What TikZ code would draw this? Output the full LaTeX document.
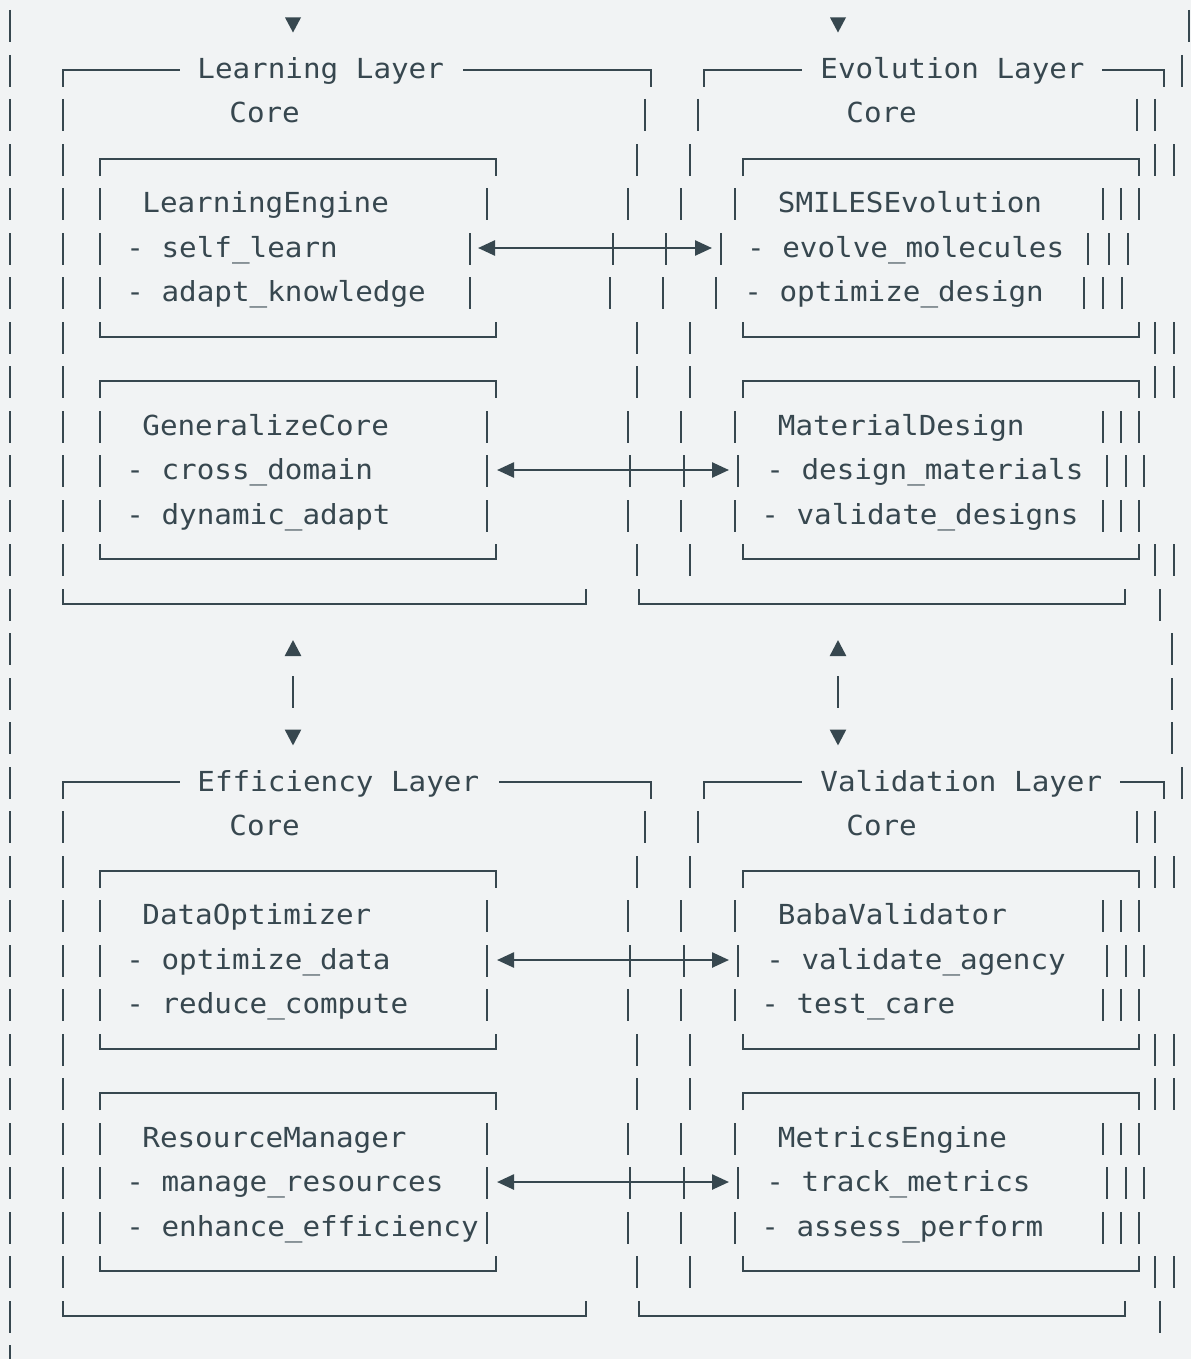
\documentclass[tikz,border=0pt]{standalone}
\usepackage{fontspec}
\newfontfamily\asciifont[FakeStretch=1.06]{DejaVu Sans Mono}
\usetikzlibrary{arrows.meta}
\definecolor{ink}{HTML}{37474F}
\definecolor{paper}{HTML}{F1F3F4}
\tikzset{
  ln/.style={draw=ink, line width=1.25pt},
  lbl/.style={anchor=base west, inner sep=0pt, text=ink, font=\asciifont\fontsize{13.8pt}{16pt}\selectfont},
  hd/.tip={Triangle[length=8.5pt,width=7.5pt]},
  hdv/.tip={Triangle[length=8pt,width=8pt]},
}
% row centre, bars, box edges
\newcommand\ry[1]{round(25+44.5*(#1))}
\newcommand\vb[2]{\foreach \bx in {#2}{\draw[ln] (\bx,{\ry{#1}-15}) -- (\bx,{\ry{#1}+17});}}
\newcommand\topedge[3]{\draw[ln] (#2,{\ry{#1}+17}) |- (#3,{\ry{#1}}) -- (#3,{\ry{#1}+17});}
\newcommand\botedge[3]{\draw[ln] (#2,{\ry{#1}-15}) |- (#3,{\ry{#1}}) -- (#3,{\ry{#1}-15});}
\begin{document}
\begin{tikzpicture}[x=0.5pt,y=-0.5pt]
\fill[paper] (0,0) rectangle (1191,1359);
\useasboundingbox (0,0) rectangle (1191,1359);

\foreach \r in {0,...,30}{\vb{\r}{10}}
\vb{0}{1189} \foreach \r in {14,15,16}{\vb{\r}{1172}}
\foreach \x in {293,838}{\fill[ink] ({\x-8},{\ry{0}-7.5}) -- ({\x+8},{\ry{0}-7.5}) -- (\x,{\ry{0}+7.5}) -- cycle;}

% the two halves
\foreach \o in {0,16}{
  \vb{\o+2}{63,645,698,1137,1155}
  \foreach \r in {3,7,8,12}{\vb{\o+\r}{63,637,690,1155,1174}}
  \foreach \r in {3,8}{\topedge{\o+\r}{100}{496} \topedge{\o+\r}{743}{1139}}
  \foreach \r in {7,12}{\botedge{\o+\r}{100}{496} \botedge{\o+\r}{743}{1139}}
  \foreach \r in {4,9}{\vb{\o+\r}{63,100,487,628,681,735,1103,1121,1139}}
  \botedge{\o+13}{63}{586} \botedge{\o+13}{639}{1125} \vb{\o+13}{1160}
}
\foreach \r in {11,22,27}{\vb{\r}{63,100,487,628,681,735,1103,1121,1139}}
\foreach \r in {10,21,26}{\vb{\r}{63,100,487,630,684,738,1107,1126,1144}}
\vb{5}{63,100,470,613,666,721,1088,1109,1128}
\vb{6}{63,100,470,610,663,716,1084,1103,1122}

\foreach \r/\a/\b in {1/463/1102,17/499/1120}{
  \draw[ln] (63,{\ry{\r}+17}) |- (180,{\ry{\r}}); \draw[ln] (\a,{\ry{\r}}) -| (651,{\ry{\r}+17});
  \draw[ln] (704,{\ry{\r}+17}) |- (802,{\ry{\r}}); \draw[ln] (\b,{\ry{\r}}) -| (1164,{\ry{\r}+17});
  \vb{\r}{1182}
}

\node[lbl] (ll) at (197,{\ry{1}+9}) {Learning Layer};
\node[lbl] (evl) at (820,{\ry{1}+9}) {Evolution Layer};
\node[lbl] (lc) at (229,{\ry{2}+9}) {Core};
\node[lbl] (evc) at (846,{\ry{2}+9}) {Core};
\node[lbl] (le) at (142,{\ry{4}+9}) {LearningEngine};
\node[lbl] (le1) at (126,{\ry{5}+9}) {- self\_learn};
\node[lbl] (le2) at (126,{\ry{6}+9}) {- adapt\_knowledge};
\node[lbl] (se) at (777.5,{\ry{4}+9}) {SMILESEvolution};
\node[lbl] (se1) at (746.7,{\ry{5}+9}) {- evolve\_molecules};
\node[lbl] (se2) at (744,{\ry{6}+9}) {- optimize\_design};
\node[lbl] (gc) at (142,{\ry{9}+9}) {GeneralizeCore};
\node[lbl] (gc1) at (126,{\ry{10}+9}) {- cross\_domain};
\node[lbl] (gc2) at (126,{\ry{11}+9}) {- dynamic\_adapt};
\node[lbl] (md) at (777.5,{\ry{9}+9}) {MaterialDesign};
\node[lbl] (md1) at (766,{\ry{10}+9}) {- design\_materials};
\node[lbl] (md2) at (761,{\ry{11}+9}) {- validate\_designs};

\node[lbl] (efl) at (197,{\ry{17}+9}) {Efficiency Layer};
\node[lbl] (val) at (820,{\ry{17}+9}) {Validation Layer};
\node[lbl] (efc) at (229,{\ry{18}+9}) {Core};
\node[lbl] (vac) at (846,{\ry{18}+9}) {Core};
\node[lbl] (do) at (142,{\ry{20}+9}) {DataOptimizer};
\node[lbl] (do1) at (126,{\ry{21}+9}) {- optimize\_data};
\node[lbl] (do2) at (126,{\ry{22}+9}) {- reduce\_compute};
\node[lbl] (bv) at (777.5,{\ry{20}+9}) {BabaValidator};
\node[lbl] (bv1) at (766,{\ry{21}+9}) {- validate\_agency};
\node[lbl] (bv2) at (761,{\ry{22}+9}) {- test\_care};
\node[lbl] (rm) at (142,{\ry{25}+9}) {ResourceManager};
\node[lbl] (rm1) at (126,{\ry{26}+9}) {- manage\_resources};
\node[lbl] (rm2) at (126,{\ry{27}+9}) {- enhance\_efficiency};
\node[lbl] (me) at (777.5,{\ry{25}+9}) {MetricsEngine};
\node[lbl] (me1) at (766,{\ry{26}+9}) {- track\_metrics};
\node[lbl] (me2) at (761,{\ry{27}+9}) {- assess\_perform};

% links between the layers
\foreach \r/\a/\b in {5/478/712,10/497/729,21/497/729,26/497/729}{
  \coordinate (w\r) at (\a,{\ry{\r}}); \coordinate (e\r) at (\b,{\ry{\r}});
  \draw[ln,hd-hd] (w\r) -- (e\r);
}
\foreach \x in {293,838}{
  \coordinate (n\x) at (\x,{\ry{14}-8}); \coordinate (s\x) at (\x,{\ry{16}+8.5});
  \draw[ln,hdv-hdv,dash pattern=on 0pt off 10.5pt on 16pt off 30pt] (n\x) -- (s\x);
}
\end{tikzpicture}
\end{document}
